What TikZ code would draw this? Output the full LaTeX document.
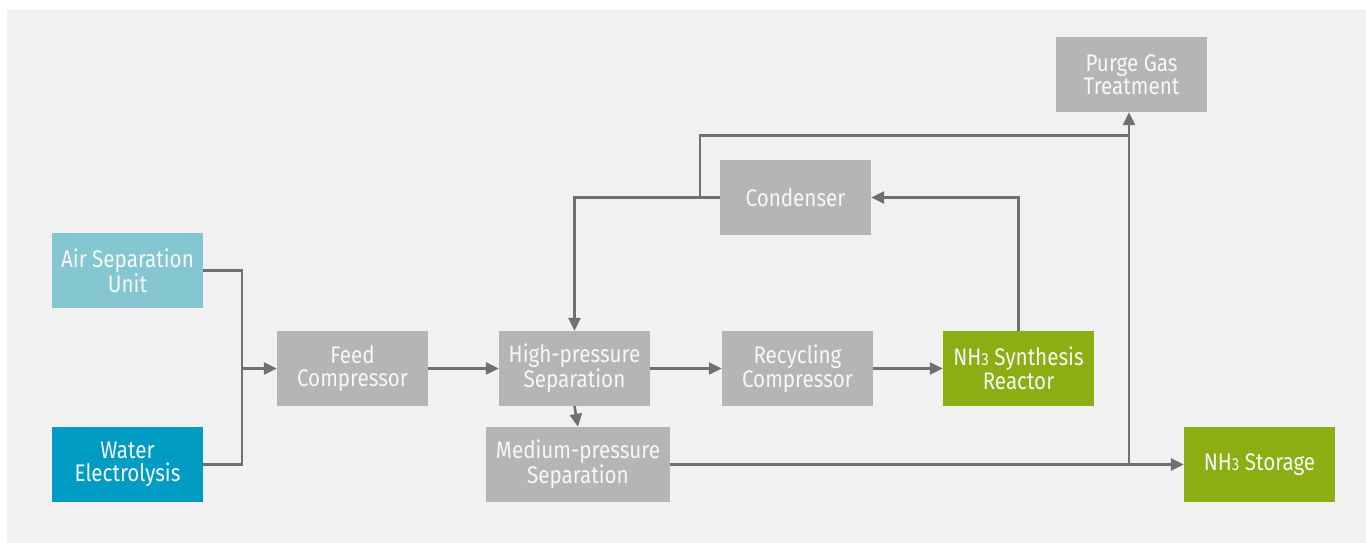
\documentclass[tikz,border=0pt]{standalone}
\usepackage{fontspec}
\setmainfont{Fira Sans}[FakeStretch=0.86]
\usetikzlibrary{arrows.meta}
\definecolor{bgc}{HTML}{F1F1F1}
\definecolor{boxgray}{HTML}{B5B5B5}
\definecolor{linec}{HTML}{707070}
\definecolor{asuc}{HTML}{85C7D0}
\definecolor{waterc}{HTML}{009CC4}
\definecolor{greenc}{HTML}{8BAF13}
\definecolor{txtc}{HTML}{F7F7F7}
\newcommand{\subthree}{{\fontsize{17.5}{17.5}\selectfont 3}}
\tikzset{
  blk/.style={rectangle, fill=boxgray, draw=none, inner sep=0pt,
    minimum width=151pt, minimum height=75pt, align=center,
    text=txtc, font=\fontsize{24}{23.5}\selectfont},
  conn/.style={draw=linec, line width=2.6pt},
  arr/.style={conn, -{Triangle[length=13pt,width=12pt]}}
}
\begin{document}
\begin{tikzpicture}[x=1pt,y=-1pt]
\useasboundingbox (0,0) rectangle (1366,543);
\fill[white] (0,0) rectangle (1366,543);
\fill[bgc] (7,10) rectangle (1366,543);

\node[blk, fill=asuc] (asu) at (127.5,270.5) {Air Separation\\Unit};
\node[blk, fill=waterc] (water) at (127.5,464.5) {Water\\Electrolysis};
\node[blk] (feed) at (352.5,368.5) {Feed\\Compressor};
\node[blk] (hp) at (574.5,368.5) {High-pressure\\Separation};
\node[blk, minimum width=184pt] (mp) at (578,464.5) {Medium-pressure\\Separation};
\node[blk] (rec) at (797.5,368.5) {Recycling\\Compressor};
\node[blk, fill=greenc] (reac) at (1018.5,368.5) {NH\subthree{} Synthesis\\Reactor};
\node[blk] (cond) at (795.5,197.5) {Condenser};
\node[blk] (purge) at (1131.5,74.5) {Purge Gas\\Treatment};
\node[blk, fill=greenc] (store) at (1259.5,464.5) {NH\subthree{} Storage};

\coordinate (m) at (242,368.5);
\coordinate (c1) at (700,197.5);
\coordinate (t) at (1129,135.5);
\coordinate (j) at (1129,464.5);

\draw[conn] (asu.east) -| (m) |- (water.east);
\draw[arr] (m) -- (feed.west);
\draw[arr] (feed.east) -- (hp.west);
\draw[arr] (hp.east) -- (rec.west);
\draw[arr] (rec.east) -- (reac.west);
\draw[arr] (hp.south) -- (mp.north);
\draw[arr] (reac.north) |- (cond.east);
\draw[arr] (cond.west) -| (hp.north);
\draw[conn] (c1) |- (t);
\draw[arr] (mp.east) -- (store.west);
\draw[arr] (j) -- (j |- purge.south);
\end{tikzpicture}
\end{document}
